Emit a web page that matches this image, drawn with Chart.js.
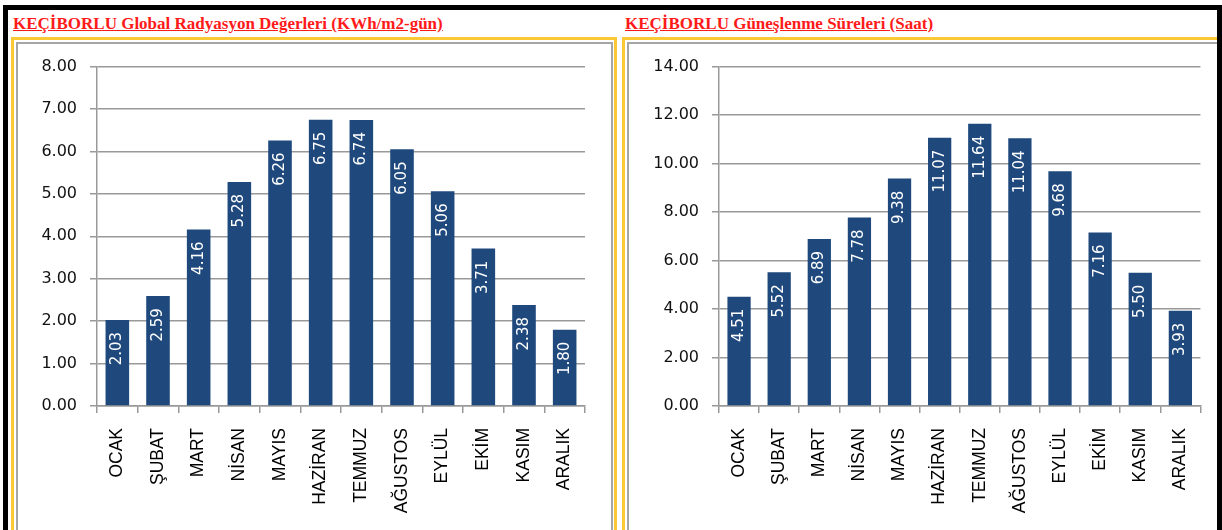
<!DOCTYPE html>
<html lang="tr">
<head>
<meta charset="utf-8">
<script src="https://cdn.jsdelivr.net/npm/chart.js@4"></script>
<style>
  html, body { margin: 0; padding: 0; background: #fff; }
  body { width: 1222px; height: 530px; position: relative; overflow: hidden; }
  .frame { position: absolute; left: 3px; top: 5px; width: 1209px; height: 600px; border: 5px solid #000; z-index: 5; }
  .title { position: absolute; top: 14px; font: bold 17px "Liberation Serif", "Times New Roman", serif; color: #ff1a1a; text-decoration: underline; white-space: nowrap; }
  .panel { position: absolute; top: 37px; height: 560px; border: 3.5px solid #fcc936; }
  .inner { position: absolute; left: 1.5px; top: 1.5px; right: 1.5px; bottom: 0; border: 2px solid #a6a6a6; background: #fff; }
  canvas { position: absolute; }
</style>
</head>
<body>
<div class="frame"></div>
<div class="title" style="left:13px">KEÇİBORLU Global Radyasyon Değerleri (KWh/m2-gün)</div>
<div class="title" style="left:625px">KEÇİBORLU Güneşlenme Süreleri (Saat)</div>
<div class="panel" style="left:11px; width:600px"><div class="inner"></div></div>
<div class="panel" style="left:622px; width:600px"><div class="inner"></div></div>
<canvas id="radyasyon" width="591" height="486" style="left:19px; top:44px"></canvas>
<canvas id="gunes" width="587" height="486" style="left:630px; top:44px"></canvas>
<script>
const months = ['OCAK', 'ŞUBAT', 'MART', 'NİSAN', 'MAYIS', 'HAZİRAN', 'TEMMUZ', 'AĞUSTOS', 'EYLÜL', 'EKİM', 'KASIM', 'ARALIK']
const radiation = [2.03, 2.59, 4.16, 5.28, 6.26, 6.75, 6.74, 6.05, 5.06, 3.71, 2.38, 1.80]
const sunshine = [4.51, 5.52, 6.89, 7.78, 9.38, 11.07, 11.64, 11.04, 9.68, 7.16, 5.50, 3.93]
const radiationAxis = { max: 8, step: 1 }
const sunshineAxis = { max: 14, step: 2 }

const barColor = '#1f497d'
const gridColor = '#999999'
const labelFont = 'DejaVu Sans'

// white values written upwards inside the top of each bar
const barValues = {
  id: 'barValues',
  afterDatasetsDraw(chart) {
    const ctx = chart.ctx
    const meta = chart.getDatasetMeta(0)
    const values = chart.data.datasets[0].data
    ctx.save()
    ctx.fillStyle = '#ffffff'
    ctx.font = '15px "' + labelFont + '"'
    ctx.textAlign = 'right'
    ctx.textBaseline = 'middle'
    meta.data.forEach((bar, i) => {
      ctx.save()
      ctx.translate(bar.x, bar.y + 12)
      ctx.rotate(-Math.PI / 2)
      ctx.fillText(values[i].toFixed(2), 0, 0)
      ctx.restore()
    })
    ctx.restore()
  }
}

function makeChart(id, values, axis, yWidth, padRight) {
  return new Chart(document.getElementById(id), {
    type: 'bar',
    data: {
      labels: months,
      datasets: [{
        data: values,
        backgroundColor: barColor,
        categoryPercentage: 1,
        barPercentage: 0.58
      }]
    },
    options: {
      responsive: false,
      animation: false,
      events: [],
      layout: { padding: { top: 22, right: padRight, left: 0, bottom: 0 } },
      plugins: {
        legend: { display: false },
        tooltip: { enabled: false }
      },
      scales: {
        x: {
          afterFit: (scale) => { scale.height = 124 },
          grid: {
            offset: true,
            drawOnChartArea: false,
            tickLength: 7,
            color: gridColor,
            lineWidth: 1.5
          },
          border: { color: gridColor, width: 1.5 },
          ticks: {
            minRotation: 90,
            maxRotation: 90,
            padding: 15,
            color: '#000',
            font: { family: 'Liberation Sans', size: 17.5 }
          }
        },
        y: {
          min: 0,
          max: axis.max,
          afterFit: (scale) => { scale.width = yWidth },
          grid: {
            tickLength: 7,
            color: gridColor,
            lineWidth: 1.5
          },
          border: { color: gridColor, width: 1.5 },
          ticks: {
            stepSize: axis.step,
            padding: 13,
            color: '#111',
            font: { family: labelFont, size: 16 },
            callback: (v) => v.toFixed(2)
          }
        }
      }
    },
    plugins: [barValues]
  })
}

makeChart('radyasyon', radiation, radiationAxis, 78, 25)
makeChart('gunes', sunshine, sunshineAxis, 89, 15)
</script>
</body>
</html>
